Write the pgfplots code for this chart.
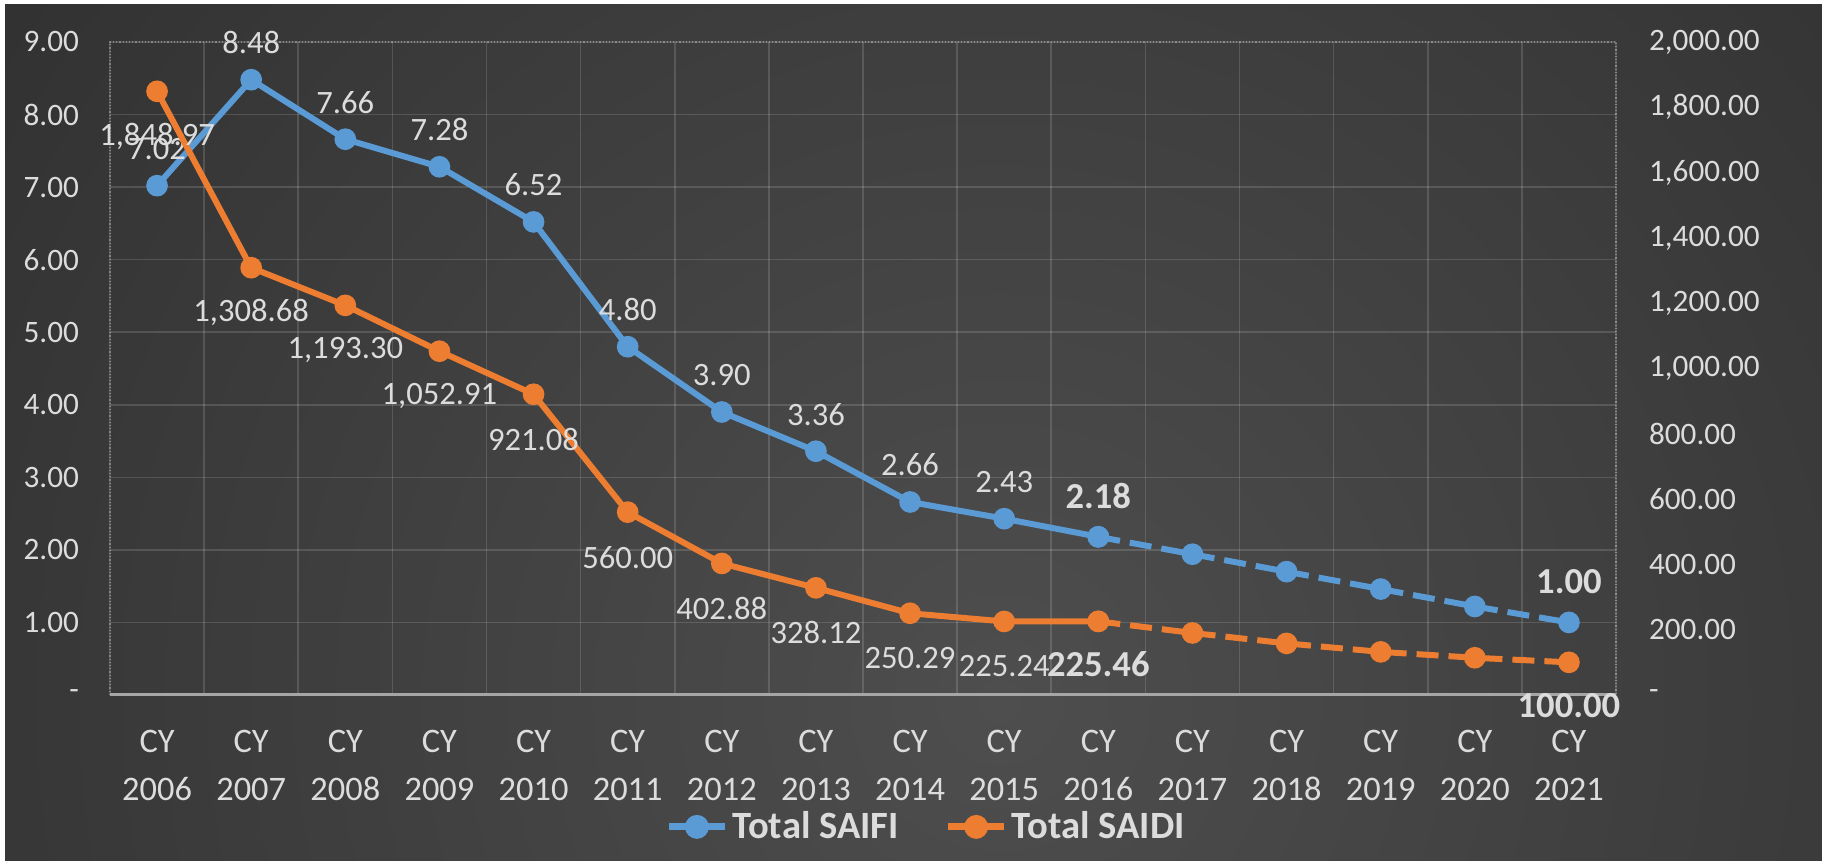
\documentclass[border=0pt]{standalone}
\usepackage{pgfplots}
\pgfplotsset{compat=1.18}
\usepackage{fontspec}
\setmainfont{Carlito}
\definecolor{saifi}{HTML}{5B9BD5}
\definecolor{saidi}{HTML}{ED7D31}
\definecolor{lbl}{HTML}{DCDCDC}
\definecolor{bgin}{HTML}{4E4E4E}
\definecolor{bgout}{HTML}{242424}
\newcommand\lf{\fontsize{15.6pt}{24pt}\selectfont}
\newcommand\xf{\fontsize{17.2pt}{24pt}\selectfont}
\newcommand\df{\fontsize{16.3pt}{20pt}\selectfont}
\newcommand\gf{\fontsize{19.3pt}{23pt}\selectfont\bfseries}
\newcommand\blf{\fontsize{18.3pt}{22pt}\selectfont\bfseries}
\pgfplotsset{/pgf/number format/assume math mode=true}
\begin{document}
\begin{tikzpicture}
\path[use as bounding box] (0,0) rectangle (911pt,430.5pt);
\fill[white] (0,0) rectangle (911pt,430.5pt);
\fill[bgout] (2.5pt,0) rectangle (911pt,428pt);
\begin{scope}
\clip (2.5pt,0) rectangle (911pt,428pt);
\shade[inner color=bgin, outer color=bgout] (500pt,80pt) circle (900pt);
\end{scope}
\begin{axis}[
  at={(55pt,83pt)}, anchor=south west,
  scale only axis, width=753pt, height=326.5pt,
  xmin=-0.5, xmax=15.5, ymin=0, ymax=9,
  xtick={0,1,...,15},
  xticklabels={CY\\2006,CY\\2007,CY\\2008,CY\\2009,CY\\2010,CY\\2011,CY\\2012,CY\\2013,CY\\2014,CY\\2015,CY\\2016,CY\\2017,CY\\2018,CY\\2019,CY\\2020,CY\\2021},
  minor xtick={-0.5,0.5,1.5,2.5,3.5,4.5,5.5,6.5,7.5,8.5,9.5,10.5,11.5,12.5,13.5,14.5,15.5},
  ytick={0,1,...,9},
  yticklabels={-\hspace{17pt},1.00,2.00,3.00,4.00,5.00,6.00,7.00,8.00,9.00},
  major tick length=0pt, minor tick length=0pt,
  xminorgrids, ymajorgrids,
  grid style={draw=white, opacity=0.14, line width=0.8pt},
  minor grid style={draw=white, opacity=0.14, line width=0.8pt},
  axis line style={draw=white, opacity=0.3, densely dotted, line width=0.6pt},
  ticklabel style={font=\lf, text=lbl},
  xticklabel style={align=center, font=\xf, yshift=-14pt},
  yticklabel style={xshift=-12pt},
  clip=false,
  every node near coord/.append style={font=\df, text=lbl, anchor=center},
  visualization depends on={rawx \as \rawx},
]
\draw[white!65!black, line width=1.5pt] (rel axis cs:0,0) -- (rel axis cs:1,0);
\addplot[saifi, line width=3pt, mark=*, mark size=3.9pt,
  nodes near coords={\ifdim\rawx pt<9.5pt\pgfmathprintnumber[fixed,fixed zerofill,precision=2]{\pgfplotspointmeta}\fi},
  every node near coord/.append style={yshift=18.5pt}]
  coordinates {(0,7.02) (1,8.48) (2,7.66) (3,7.28) (4,6.52) (5,4.80) (6,3.90) (7,3.36) (8,2.66) (9,2.43) (10,2.18)};
\addplot[saifi, line width=3pt, dash pattern=on 11pt off 5pt, mark=*, mark size=3.9pt, mark options={solid},
  nodes near coords={\ifdim\rawx pt<10.5pt\pgfmathprintnumber[fixed,fixed zerofill,precision=2]{\pgfplotspointmeta}\else\ifdim\rawx pt>14.5pt\pgfmathprintnumber[fixed,fixed zerofill,precision=2]{\pgfplotspointmeta}\fi\fi},
  every node near coord/.append style={font=\blf, yshift=20.5pt}]
  coordinates {(10,2.18) (11,1.94) (12,1.70) (13,1.46) (14,1.22) (15,1.00)};
\end{axis}
\begin{axis}[
  at={(55pt,83pt)}, anchor=south west,
  scale only axis, width=753pt, height=326.5pt,
  xmin=-0.5, xmax=15.5, ymin=0, ymax=2000,
  axis x line=none, axis y line*=right,
  y axis line style={draw=none},
  ytick={0,200,...,2000},
  yticklabels={-,200.00,400.00,600.00,800.00,{1,000.00},{1,200.00},{1,400.00},{1,600.00},{1,800.00},{2,000.00}},
  major tick length=0pt,
  ticklabel style={font=\lf, text=lbl},
  yticklabel style={xshift=13pt},
  clip=false,
  every node near coord/.append style={font=\df, text=lbl, anchor=center},
  visualization depends on={rawx \as \rawx},
  legend style={at={(0.5425,-0.202)}, anchor=center, draw=none, fill=none, text=lbl, font=\gf,
    legend columns=2, /tikz/every even column/.append style={column sep=21pt}},
  legend image code/.code={\draw[mark repeat=2,mark phase=2] plot coordinates {(0pt,0pt) (14pt,0pt) (28pt,0pt)};},
]
\addlegendimage{saifi, line width=3.5pt, mark=*, mark size=4.2pt}
\addlegendentry{Total SAIFI}
\addplot[saidi, line width=3pt, mark=*, mark size=3.9pt,
  nodes near coords={\ifdim\rawx pt<9.5pt\pgfmathprintnumber[fixed,fixed zerofill,precision=2,1000 sep={,}]{\pgfplotspointmeta}\fi},
  every node near coord/.append style={yshift=-22.5pt},
  legend image post style={line width=3.5pt, mark size=4.2pt}]
  coordinates {(0,1848.97) (1,1308.68) (2,1193.30) (3,1052.91) (4,921.08) (5,560.00) (6,402.88) (7,328.12) (8,250.29) (9,225.24) (10,225.46)};
\addlegendentry{Total SAIDI}
\addplot[saidi, line width=3pt, dash pattern=on 11pt off 5pt, mark=*, mark size=3.9pt, mark options={solid},
  nodes near coords={\ifdim\rawx pt<10.5pt\pgfmathprintnumber[fixed,fixed zerofill,precision=2,1000 sep={,}]{\pgfplotspointmeta}\else\ifdim\rawx pt>14.5pt\pgfmathprintnumber[fixed,fixed zerofill,precision=2,1000 sep={,}]{\pgfplotspointmeta}\fi\fi},
  every node near coord/.append style={font=\blf, yshift=-21.5pt}, forget plot]
  coordinates {(10,225.46) (11,190) (12,158) (13,132) (14,114) (15,100)};
\end{axis}
\end{tikzpicture}
\end{document}
